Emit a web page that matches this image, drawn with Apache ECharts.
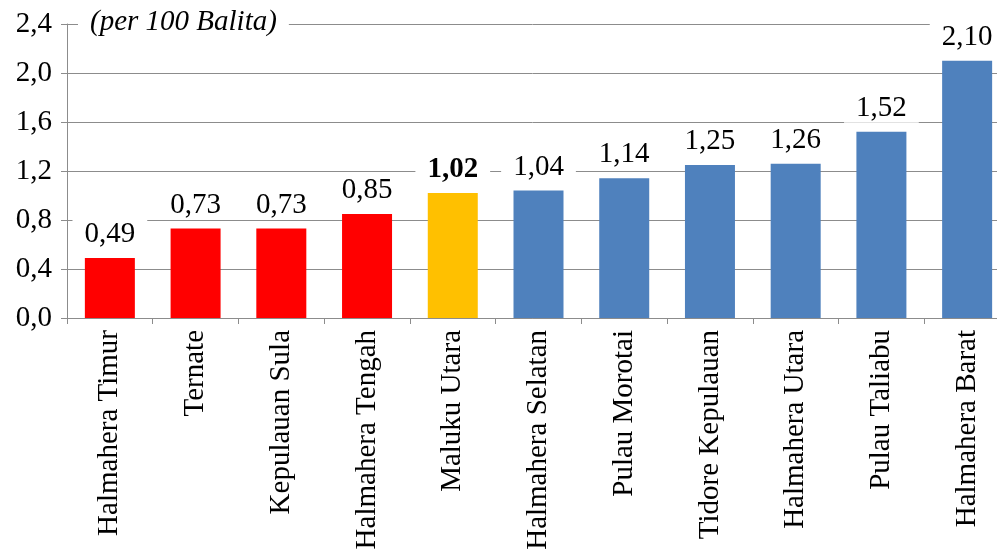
<!DOCTYPE html>
<html>
<head>
<meta charset="utf-8">
<script src="https://cdn.jsdelivr.net/npm/echarts@6/dist/echarts.min.js"></script>
<style>
  html, body { margin: 0; padding: 0; background: #fff; }
  #chart { width: 997px; height: 549px; }
</style>
</head>
<body>
<div id="chart"></div>
<script>
var categories = ['Halmahera Timur', 'Ternate', 'Kepulauan Sula', 'Halmahera Tengah', 'Maluku Utara',
    'Halmahera Selatan', 'Pulau Morotai', 'Tidore Kepulauan', 'Halmahera Utara', 'Pulau Taliabu', 'Halmahera Barat'];
var values = [0.49, 0.73, 0.73, 0.85, 1.02, 1.04, 1.14, 1.25, 1.26, 1.52, 2.10];
var barColors = ['#ff0000', '#ff0000', '#ff0000', '#ff0000', '#ffc000',
    '#4f81bd', '#4f81bd', '#4f81bd', '#4f81bd', '#4f81bd', '#4f81bd'];
var boldIndex = 4;

var fmt = function (v) { return v.toFixed(1).replace('.', ','); };
var FONT = '"Liberation Serif", "Times New Roman", serif';

var myChart = echarts.init(document.getElementById('chart'));

var barData = [];
for (var i = 0; i < values.length; i++) {
    barData.push({
        value: values[i],
        itemStyle: { color: barColors[i] },
        label: { fontWeight: i === boldIndex ? 'bold' : 'normal' }
    });
}

var option = {
    animation: false,
    title: {
        text: '(per 100 Balita)',
        left: 78,
        top: 8,
        backgroundColor: '#fff',
        padding: [0, 12, 0, 12],
        textStyle: { fontFamily: FONT, fontStyle: 'italic', fontWeight: 'normal', fontSize: 29, color: '#000' }
    },
    grid: { left: 67, right: -13, top: 24, bottom: 231, containLabel: false, outerBoundsMode: 'none' },
    xAxis: {
        type: 'category',
        data: categories,
        axisLine: { lineStyle: { color: '#8c8c8c', width: 1 } },
        axisTick: { show: true, alignWithLabel: false, length: 6, lineStyle: { color: '#8c8c8c' } },
        axisLabel: { rotate: 90, interval: 0, margin: 12, fontFamily: FONT, fontSize: 29, color: '#000' }
    },
    yAxis: {
        type: 'value',
        min: 0,
        max: 2.4,
        interval: 0.4,
        axisLine: { show: true, lineStyle: { color: '#8c8c8c', width: 1 } },
        axisTick: { show: true, length: 6, lineStyle: { color: '#8c8c8c' } },
        splitLine: { lineStyle: { color: '#8c8c8c', width: 1 } },
        axisLabel: { formatter: fmt, margin: 15, fontFamily: FONT, fontSize: 29, color: '#000' }
    },
    series: [{
        type: 'bar',
        data: barData,
        barWidth: 50,
        z: 3,
        label: {
            show: true,
            position: 'top',
            distance: 9,
            formatter: function (p) { return p.value.toFixed(2).replace('.', ','); },
            fontFamily: FONT,
            fontSize: 29,
            color: '#000',
            backgroundColor: '#fff',
            padding: [0, 12, 0, 12]
        }
    }]
};

myChart.setOption(option, true);
</script>
</body>
</html>
